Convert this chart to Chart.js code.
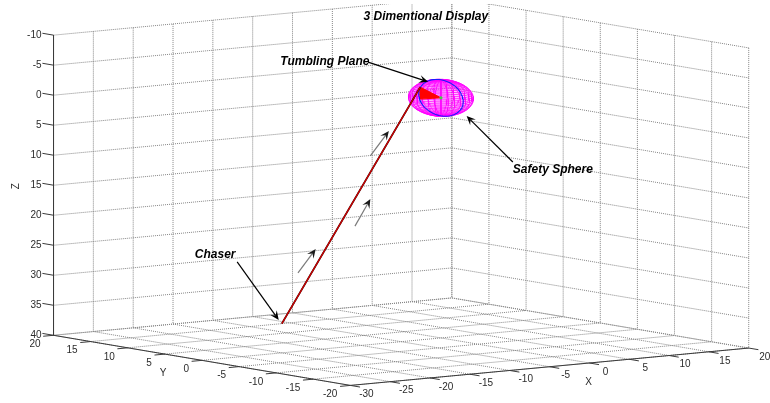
<!DOCTYPE html>
<html>
<head>
<meta charset="utf-8">
<script src="https://cdn.jsdelivr.net/npm/chart.js@4.4.1/dist/chart.umd.min.js"></script>
<style>
  html, body { margin: 0; padding: 0; background: #fff; overflow: hidden; }
  canvas { display: block; }
</style>
</head>
<body>
<canvas id="grafico3d" width="770" height="403"></canvas>
<script>
// ticks de cada eje (los extremos son los limites de la caja)
const xTicks = [-30, -25, -20, -15, -10, -5, 0, 5, 10, 15, 20]
const yTicks = [-20, -15, -10, -5, 0, 5, 10, 15, 20]
const zTicks = [-10, -5, 0, 5, 10, 15, 20, 25, 30, 35, 40]   // eje Z invertido

// trayectoria del chaser (x, y, z)
const chaserPath = [[-6, 15, 40], [0, 2.8, -1.2]]

// esfera de seguridad y plano que gira
const sphereCenter = [0, 0, 0]
const sphereRadius = 3
const sphereMesh = 30
const tumblingPlane = [[0, 0, 0], [0, 2.8, -1.2], [0, 2.8, 0.8], [0, 0, 0]]

const titulo = '3 Dimentional Display'

// anotaciones en coordenadas normalizadas de la figura [x, y] (y desde arriba)
const notas = [
    { texto: 'Tumbling Plane', pos: [0.364, 0.152] },
    { texto: 'Safety Sphere', pos: [0.666, 0.422] },
    { texto: 'Chaser', pos: [0.253, 0.633] }
]
const flechasNegras = [
    [[0.478, 0.154], [0.556, 0.203]],
    [[0.666, 0.402], [0.606, 0.288]],
    [[0.308, 0.650], [0.362, 0.794]]
]
const flechasGrises = [
    [[0.387, 0.677], [0.410, 0.618]],
    [[0.461, 0.561], [0.481, 0.494]],
    [[0.481, 0.387], [0.505, 0.325]]
]

/*********************************************
*   VISTA 3D (azimut / elevacion)
**********************************************/
const vista = { az: -36.7, el: 7.3, zAspect: 0.615 }
const escala = 502              // px por lado de la caja
const centro = [401.3, 191.4]   // donde cae el centro de la caja
const ANCHO = 770, ALTO = 403

const xLim = [xTicks[0], xTicks[xTicks.length - 1]]
const yLim = [yTicks[0], yTicks[yTicks.length - 1]]
const zLim = [zTicks[0], zTicks[zTicks.length - 1]]

function proyectar(p) {
    const nx = (p[0] - xLim[0]) / (xLim[1] - xLim[0]) - 0.5
    const ny = (p[1] - yLim[0]) / (yLim[1] - yLim[0]) - 0.5
    const nz = ((zLim[1] - p[2]) / (zLim[1] - zLim[0]) - 0.5) * vista.zAspect
    const az = vista.az * Math.PI / 180
    const el = vista.el * Math.PI / 180
    return {
        x: Math.cos(az) * nx + Math.sin(az) * ny,
        y: -Math.sin(az) * Math.sin(el) * nx + Math.cos(az) * Math.sin(el) * ny + Math.cos(el) * nz
    }
}

const CORTE = { x: NaN, y: NaN }

// junta varios segmentos 3D en una sola serie con cortes
function segmentos(lista) {
    const out = []
    lista.forEach(s => {
        s.forEach(p => out.push(proyectar(p)))
        out.push(CORTE)
    })
    return out
}

// grilla punteada: piso (z max) y las dos paredes del fondo
function grilla() {
    const s = []
    const zF = zLim[1]
    xTicks.forEach(x => s.push([[x, yLim[0], zF], [x, yLim[1], zF]]))
    yTicks.forEach(y => s.push([[xLim[0], y, zF], [xLim[1], y, zF]]))
    xTicks.forEach(x => s.push([[x, yLim[1], zLim[0]], [x, yLim[1], zLim[1]]]))
    zTicks.forEach(z => s.push([[xLim[0], yLim[1], z], [xLim[1], yLim[1], z]]))
    yTicks.forEach(y => s.push([[xLim[1], y, zLim[0]], [xLim[1], y, zLim[1]]]))
    zTicks.forEach(z => s.push([[xLim[1], yLim[0], z], [xLim[1], yLim[1], z]]))
    return segmentos(s)
}

function ejes() {
    const s = []
    s.push([[xLim[0], yLim[1], zLim[0]], [xLim[0], yLim[1], zLim[1]]])   // Z
    s.push([[xLim[0], yLim[1], zLim[1]], [xLim[0], yLim[0], zLim[1]]])   // Y
    s.push([[xLim[0], yLim[0], zLim[1]], [xLim[1], yLim[0], zLim[1]]])   // X
    zTicks.forEach(z => s.push([[xLim[0], yLim[1], z], [xLim[0], yLim[1] + 1.5, z]]))
    yTicks.forEach(y => s.push([[xLim[0], y, zLim[1]], [xLim[0] - 1.3, y, zLim[1]]]))
    xTicks.forEach(x => s.push([[x, yLim[0], zLim[1]], [x, yLim[0] - 1.3, zLim[1]]]))
    return segmentos(s)
}

// malla tipo sphere(n) de matlab
function malla() {
    const s = []
    const n = sphereMesh
    const [cx, cy, cz] = sphereCenter
    const r = sphereRadius
    for (let i = 0; i <= n; i++) {
        const lat = (-n + 2 * i) / n * Math.PI / 2
        const fila = [], col = []
        for (let j = 0; j <= n; j++) {
            const lon = (-n + 2 * j) / n * Math.PI
            fila.push([cx + r * Math.cos(lat) * Math.cos(lon), cy + r * Math.cos(lat) * Math.sin(lon), cz + r * Math.sin(lat)])
            const lat2 = (-n + 2 * j) / n * Math.PI / 2
            const lon2 = (-n + 2 * i) / n * Math.PI
            col.push([cx + r * Math.cos(lat2) * Math.cos(lon2), cy + r * Math.cos(lat2) * Math.sin(lon2), cz + r * Math.sin(lat2)])
        }
        s.push(fila, col)
    }
    return segmentos(s)
}

function anillo() {
    const pts = []
    const [cx, cy, cz] = sphereCenter
    for (let k = 0; k <= 72; k++) {
        const t = k / 72 * 2 * Math.PI
        pts.push([cx, cy + sphereRadius * Math.cos(t), cz + sphereRadius * Math.sin(t)])
    }
    return segmentos([pts])
}

/*********************************************
*   TEXTOS, TICKS Y ANOTACIONES
**********************************************/
function flecha(ctx, a, b, colorLinea, colorPunta) {
    const x0 = a[0] * ANCHO, y0 = a[1] * ALTO
    const x1 = b[0] * ANCHO, y1 = b[1] * ALTO
    const ang = Math.atan2(y1 - y0, x1 - x0)
    const L = 9, W = 4
    ctx.strokeStyle = colorLinea
    ctx.lineWidth = 1.2
    ctx.beginPath()
    ctx.moveTo(x0, y0)
    ctx.lineTo(x1 - Math.cos(ang) * L * 0.6, y1 - Math.sin(ang) * L * 0.6)
    ctx.stroke()
    ctx.save()
    ctx.translate(x1, y1)
    ctx.rotate(ang)
    ctx.fillStyle = colorPunta
    ctx.beginPath()
    ctx.moveTo(0, 0)
    ctx.lineTo(-L, -W)
    ctx.lineTo(-L * 0.6, 0)
    ctx.lineTo(-L, W)
    ctx.closePath()
    ctx.fill()
    ctx.restore()
}

const textos3d = {
    id: 'textos3d',
    afterDatasetsDraw(chart) {
        const ctx = chart.ctx
        const sx = chart.scales.x, sy = chart.scales.y
        const pix = p => { const q = proyectar(p); return [sx.getPixelForValue(q.x), sy.getPixelForValue(q.y)] }
        ctx.save()
        ctx.fillStyle = '#2b2b2b'
        ctx.font = '10px "Liberation Sans", Arial, sans-serif'

        // Z
        ctx.textAlign = 'right'; ctx.textBaseline = 'middle'
        zTicks.forEach(z => { const [px, py] = pix([xLim[0], yLim[1], z]); ctx.fillText(String(z), px - 12, py) })
        // Y
        ctx.textAlign = 'right'; ctx.textBaseline = 'middle'
        yTicks.forEach(y => { const [px, py] = pix([xLim[0], y, zLim[1]]); ctx.fillText(String(y), px - 13, py + 9) })
        // X
        ctx.textAlign = 'center'
        xTicks.forEach(x => { const [px, py] = pix([x, yLim[0], zLim[1]]); ctx.fillText(String(x), px + 16, py + 9) })

        // nombres de ejes
        const zm = pix([xLim[0], yLim[1], (zLim[0] + zLim[1]) / 2])
        ctx.save(); ctx.translate(zm[0] - 37, zm[1] + 1); ctx.rotate(-Math.PI / 2)
        ctx.textAlign = 'center'; ctx.fillText('Z', 0, 0); ctx.restore()
        const ym = pix([xLim[0], (yLim[0] + yLim[1]) / 2, zLim[1]])
        ctx.fillText('Y', ym[0] - 39, ym[1] + 13)
        const xm = pix([(xLim[0] + xLim[1]) / 2, yLim[0], zLim[1]])
        ctx.fillText('X', xm[0] + 39, xm[1] + 16)

        // titulo y anotaciones
        ctx.fillStyle = '#000'
        ctx.font = 'italic bold 12px "Liberation Sans", Arial, sans-serif'
        ctx.textAlign = 'center'
        ctx.fillText(titulo, 0.553 * ANCHO, 0.042 * ALTO)
        ctx.textAlign = 'left'
        notas.forEach(n => ctx.fillText(n.texto, n.pos[0] * ANCHO, n.pos[1] * ALTO))

        flechasGrises.forEach(f => flecha(ctx, f[0], f[1], '#7a7a7a', '#1a1a1a'))
        flechasNegras.forEach(f => flecha(ctx, f[0], f[1], '#000', '#000'))
        ctx.restore()
    }
}

/*********************************************
*   GRAFICO
**********************************************/
const linea = (data, color, ancho, orden, extra) => Object.assign({
    type: 'scatter', data, showLine: true, borderColor: color, borderWidth: ancho,
    pointRadius: 0, spanGaps: false, fill: false, order: orden
}, extra || {})

const data = {
    datasets: [
        linea(segmentos([[sphereCenter]]), '#00b000', 0, 1, { showLine: false, pointRadius: 1.6, pointBackgroundColor: '#40d040', pointBorderWidth: 0 }),
        linea(segmentos([chaserPath]), '#d00000', 1.2, 2),
        linea(segmentos([chaserPath]), '#200000', 1.8, 3),
        linea(anillo(), '#1a1aff', 1.1, 4),
        linea(segmentos([tumblingPlane]), '#ff0000', 1, 5, { fill: 'shape', backgroundColor: '#ff0000' }),
        linea(malla(), '#ff00ff', 0.6, 6),
        linea(ejes(), '#3a3a3a', 1, 7),
        linea(grilla(), '#858585', 1, 8, { borderDash: [1, 1] })
    ]
}

const options = {
    responsive: false,
    animation: false,
    events: [],
    layout: { padding: 0 },
    scales: {
        x: { type: 'linear', display: false, min: -centro[0] / escala, max: (ANCHO - centro[0]) / escala },
        y: { type: 'linear', display: false, min: -(ALTO - centro[1]) / escala, max: centro[1] / escala }
    },
    plugins: {
        legend: { display: false },
        tooltip: { enabled: false }
    }
}

const ctx = document.getElementById('grafico3d').getContext('2d')
new Chart(ctx, { type: 'scatter', data, options, plugins: [textos3d] })
</script>
</body>
</html>
